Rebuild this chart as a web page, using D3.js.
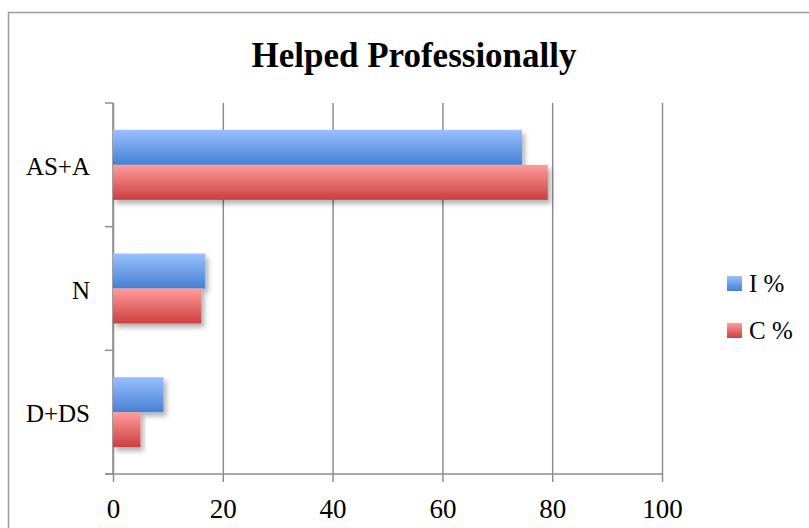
<!DOCTYPE html>
<html>
<head>
<meta charset="utf-8">
<script src="https://cdn.jsdelivr.net/npm/d3@7"></script>
<style>
  body { margin: 0; background: #fff; }
  svg { display: block; }
</style>
</head>
<body>
<svg id="chart" width="809" height="528"></svg>
<script>
// data
const categories = ["AS+A", "N", "D+DS"];
const seriesNames = ["I %", "C %"];
const iValues = [74.5, 16.8, 9.2];
const cValues = [79.2, 16.1, 5.0];
const xTicks = [0, 20, 40, 60, 80, 100];

const svg = d3.select("#chart");
const width = 809, height = 528;
const font = "'Liberation Serif', 'DejaVu Serif', serif";
const gridColor = "#8e8e8e";

// plot area
const plotLeft = 113, plotRight = 662, plotTop = 103, plotBottom = 474;

const x = d3.scaleLinear().domain([0, 100]).range([plotLeft, plotRight]);
const pad = 0.434;
const y = d3.scaleBand().domain(categories).range([plotTop, plotBottom])
  .paddingInner(pad).paddingOuter(pad / 2);
const ySub = d3.scaleBand().domain(seriesNames).range([0, y.bandwidth()]);

const colors = {
  "I %": ["#99c0ff", "#4580d2"],
  "C %": ["#ff9c9c", "#cd3e3e"]
};

// gradients + shadow
const defs = svg.append("defs");
Object.keys(colors).forEach(function (k, i) {
  const g = defs.append("linearGradient")
    .attr("id", "grad" + i)
    .attr("x1", 0).attr("y1", 0).attr("x2", 0).attr("y2", 1);
  g.append("stop").attr("offset", "0%").attr("stop-color", colors[k][0]);
  g.append("stop").attr("offset", "100%").attr("stop-color", colors[k][1]);
});
const f = defs.append("filter").attr("id", "shadow")
  .attr("x", "-10%").attr("y", "-20%").attr("width", "130%").attr("height", "160%");
f.append("feDropShadow").attr("dx", 3).attr("dy", 4).attr("stdDeviation", 2.5)
  .attr("flood-color", "#000").attr("flood-opacity", 0.3);

// outer frame
svg.append("rect")
  .attr("x", 8.5).attr("y", 12.5)
  .attr("width", width + 10).attr("height", height + 10)
  .attr("fill", "none").attr("stroke", "#9a9a9a").attr("stroke-width", 1.5);

// title
svg.append("text")
  .attr("x", 414).attr("y", 67)
  .attr("text-anchor", "middle")
  .style("font-family", font).style("font-weight", "bold").style("font-size", "35px")
  .text("Helped Professionally");

// vertical gridlines + x axis
const xAxis = d3.axisBottom(x).tickValues(xTicks).tickSize(8).tickPadding(17);
const gx = svg.append("g").attr("transform", "translate(0," + plotBottom + ")").call(xAxis);
gx.select(".domain").remove();
gx.selectAll(".tick line").attr("y1", -(plotBottom - plotTop)).attr("stroke", gridColor).attr("stroke-width", 1.5);
gx.selectAll(".tick text")
  .style("font-family", font).style("font-size", "27px").attr("fill", "#000");
svg.append("line")
  .attr("x1", plotLeft - 8).attr("x2", plotRight).attr("y1", plotBottom).attr("y2", plotBottom)
  .attr("stroke", gridColor).attr("stroke-width", 1.5);

// y axis with ticks on category boundaries
const step = y.step();
const bounds = categories.map(c => y(c) - step * pad / 2).concat([plotBottom]);
svg.append("line")
  .attr("x1", plotLeft).attr("x2", plotLeft).attr("y1", plotTop).attr("y2", plotBottom)
  .attr("stroke", gridColor).attr("stroke-width", 1.5);
svg.append("g").selectAll("line")
  .data(bounds)
  .join("line")
  .attr("x1", plotLeft - 8).attr("x2", plotLeft)
  .attr("y1", d => d).attr("y2", d => d)
  .attr("stroke", gridColor).attr("stroke-width", 1.5);
svg.append("g").selectAll("text")
  .data(categories)
  .join("text")
  .attr("x", 90)
  .attr("y", d => y(d) + y.bandwidth() / 2 + 10)
  .attr("text-anchor", "end")
  .style("font-family", font).style("font-size", "25px")
  .text(d => d);

// bars
const rows = categories.map((c, i) => ({ cat: c, vals: [iValues[i], cValues[i]] }));
svg.append("g").selectAll("g")
  .data(rows)
  .join("g")
  .attr("transform", d => "translate(0," + y(d.cat) + ")")
  .selectAll("rect")
  .data(d => d.vals.map((v, j) => ({ name: seriesNames[j], v: v, j: j })))
  .join("rect")
  .attr("x", x(0))
  .attr("y", d => ySub(d.name))
  .attr("width", d => x(d.v) - x(0))
  .attr("height", ySub.bandwidth())
  .attr("fill", d => "url(#grad" + d.j + ")")
  .attr("filter", "url(#shadow)");

// legend
const legend = svg.append("g").selectAll("g")
  .data(seriesNames)
  .join("g")
  .attr("transform", (d, i) => "translate(727," + (276 + i * 47) + ")");
legend.append("rect")
  .attr("width", 15).attr("height", 15)
  .attr("fill", (d, i) => "url(#grad" + i + ")");
legend.append("text")
  .attr("x", 22).attr("y", 16)
  .style("font-family", font).style("font-size", "25px")
  .text(d => d);
</script>
</body>
</html>
